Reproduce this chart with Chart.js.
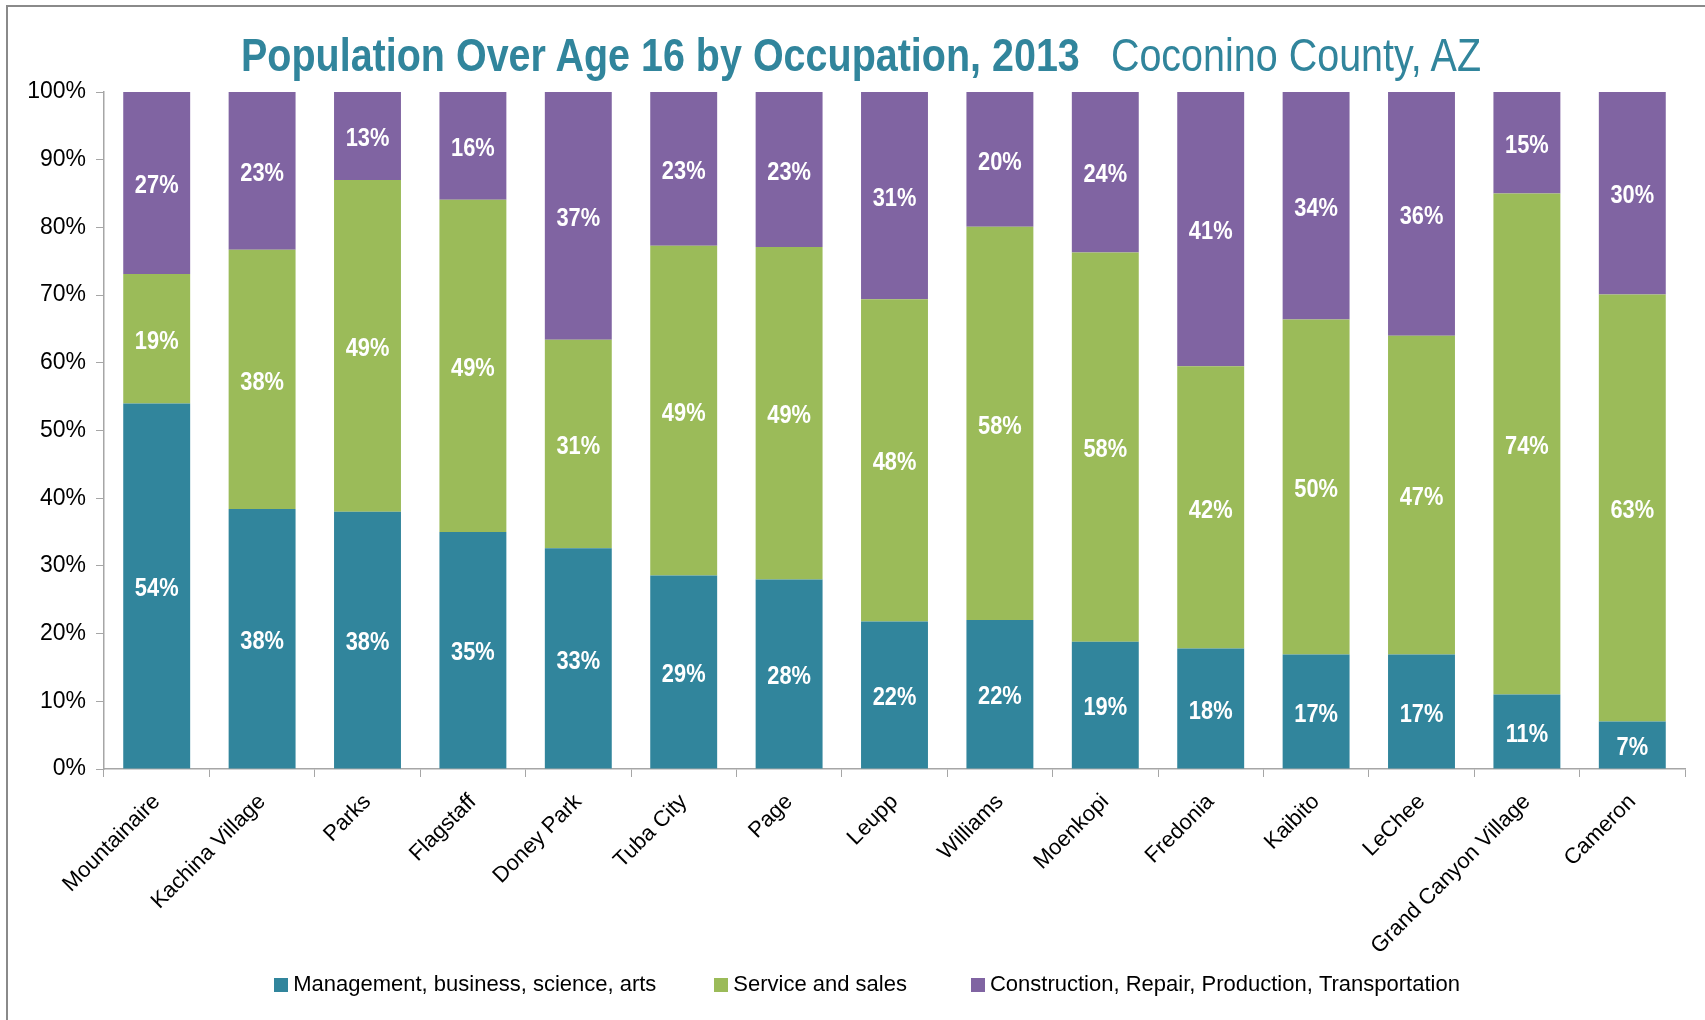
<!DOCTYPE html>
<html>
<head>
<meta charset="utf-8">
<script src="https://cdn.jsdelivr.net/npm/chart.js@4.4.1/dist/chart.umd.min.js"></script>
<style>
  html, body { margin: 0; padding: 0; background: #fff; overflow: hidden; }
  #wrap { position: relative; width: 1705px; height: 1020px; }
  #frame { position: absolute; left: 6px; top: 5px; width: 2000px; height: 2000px;
           border: 2px solid #8a8a8a; box-sizing: border-box; pointer-events: none; }
  #title { position: absolute; left: 241px; top: 27px; white-space: nowrap;
           font-family: "Liberation Sans", Arial, sans-serif;
           font-size: 47px; color: #31859C;
           transform: scaleX(0.84); transform-origin: 0 0; }
  #title .b { font-weight: bold; }
  #title .n { font-weight: normal; margin-left: 37px; }
  canvas { position: absolute; left: 0; top: 0; }
</style>
</head>
<body>
<div id="wrap">
  <canvas id="c" width="1705" height="1020"></canvas>
  <div id="frame"></div>
  <div id="title"><span class="b">Population Over Age 16 by Occupation, 2013</span><span class="n">Coconino County, AZ</span></div>
</div>
<script>
const categories = ["Mountainaire", "Kachina Village", "Parks", "Flagstaff", "Doney Park", "Tuba City", "Page", "Leupp", "Williams", "Moenkopi", "Fredonia", "Kaibito", "LeChee", "Grand Canyon Village", "Cameron"];
const seriesNames = ["Management, business, science, arts", "Service and sales", "Construction, Repair, Production, Transportation"];
const management = [54.0, 38.4, 38.0, 35.0, 32.6, 28.6, 28.0, 21.8, 22.0, 18.8, 17.8, 16.9, 16.9, 11.0, 7.0];
const service    = [19.1, 38.3, 49.0, 49.1, 30.8, 48.7, 49.1, 47.6, 58.1, 57.5, 41.7, 49.5, 47.1, 74.0, 63.1];
const construction = [26.9, 23.3, 13.0, 15.9, 36.6, 22.7, 22.9, 30.6, 19.9, 23.7, 40.5, 33.6, 36.0, 15.0, 29.9];
const yTicks = [0, 10, 20, 30, 40, 50, 60, 70, 80, 90, 100];
const colors = ["#31859C", "#9BBB59", "#8064A2"];
const legendGaps = [8, 9, 8]; // extra spacing (non-breaking spaces) after each legend entry

const REGULAR = '"Liberation Sans", Arial, sans-serif';

// small square legend markers
const markers = colors.map(col => {
  const cv = document.createElement('canvas');
  cv.width = 14; cv.height = 14;
  const g = cv.getContext('2d');
  g.fillStyle = col;
  g.fillRect(0, 0, 14, 14);
  return cv;
});

const valueLabels = {
  id: 'valueLabels',
  afterDatasetsDraw(chart) {
    const ctx = chart.ctx;
    const sx = 0.84;
    ctx.save();
    ctx.font = 'bold 26px ' + REGULAR;
    ctx.fillStyle = '#ffffff';
    ctx.textAlign = 'center';
    ctx.textBaseline = 'middle';
    chart.data.datasets.forEach((ds, di) => {
      const meta = chart.getDatasetMeta(di);
      meta.data.forEach((el, i) => {
        const v = ds.data[i];
        const cy = (el.y + el.base) / 2;
        ctx.save();
        ctx.translate(el.x, cy + 3);
        ctx.scale(sx, 1);
        ctx.fillText(Math.round(v) + '%', 0, 0);
        ctx.restore();
      });
    });
    ctx.restore();
  }
};

new Chart(document.getElementById('c'), {
  type: 'bar',
  data: {
    labels: categories,
    datasets: [
      { label: seriesNames[0], data: management, backgroundColor: colors[0] },
      { label: seriesNames[1], data: service, backgroundColor: colors[1] },
      { label: seriesNames[2], data: construction, backgroundColor: colors[2] }
    ]
  },
  options: {
    responsive: false,
    animation: false,
    devicePixelRatio: 1,
    layout: { padding: { top: 92, right: 20, left: 26, bottom: 14 } },
    datasets: { bar: { categoryPercentage: 1.0, barPercentage: 0.635, borderWidth: 0 } },
    scales: {
      x: {
        stacked: true,
        grid: { display: true, offset: true, drawOnChartArea: false, drawTicks: true, tickLength: 8, color: '#a6a6a6' },
        border: { display: true, color: '#a6a6a6', width: 1.5 },
        ticks: { color: '#000', font: { family: REGULAR, size: 22 }, minRotation: 45, maxRotation: 45, padding: 12, autoSkip: false },
        afterFit(scale) { scale.height = 190; }
      },
      y: {
        stacked: true,
        min: 0, max: 100,
        afterBuildTicks(scale) { scale.ticks = yTicks.map(v => ({ value: v })); },
        grid: { display: true, drawOnChartArea: false, drawTicks: true, tickLength: 8, color: '#a6a6a6' },
        border: { display: true, color: '#a6a6a6', width: 1.5 },
        ticks: { color: '#000', font: { family: REGULAR, size: 23 }, padding: 10, callback: v => v + '%' },
        afterFit(scale) { scale.width = 78; }
      }
    },
    plugins: {
      title: { display: false },
      tooltip: { enabled: false },
      legend: {
        display: true,
        position: 'bottom',
        fullSize: false,
        labels: {
          usePointStyle: true,
          boxWidth: 2, boxHeight: 14, padding: 15, color: '#000',
          font: { family: REGULAR, size: 22 },
          generateLabels(chart) {
            const items = Chart.defaults.plugins.legend.labels.generateLabels(chart);
            items.forEach((it, i) => {
              it.text = it.text + '\u00A0'.repeat(legendGaps[i] || 0);
              it.pointStyle = markers[i];
            });
            return items;
          }
        }
      }
    }
  },
  plugins: [valueLabels]
});
</script>
</body>
</html>
